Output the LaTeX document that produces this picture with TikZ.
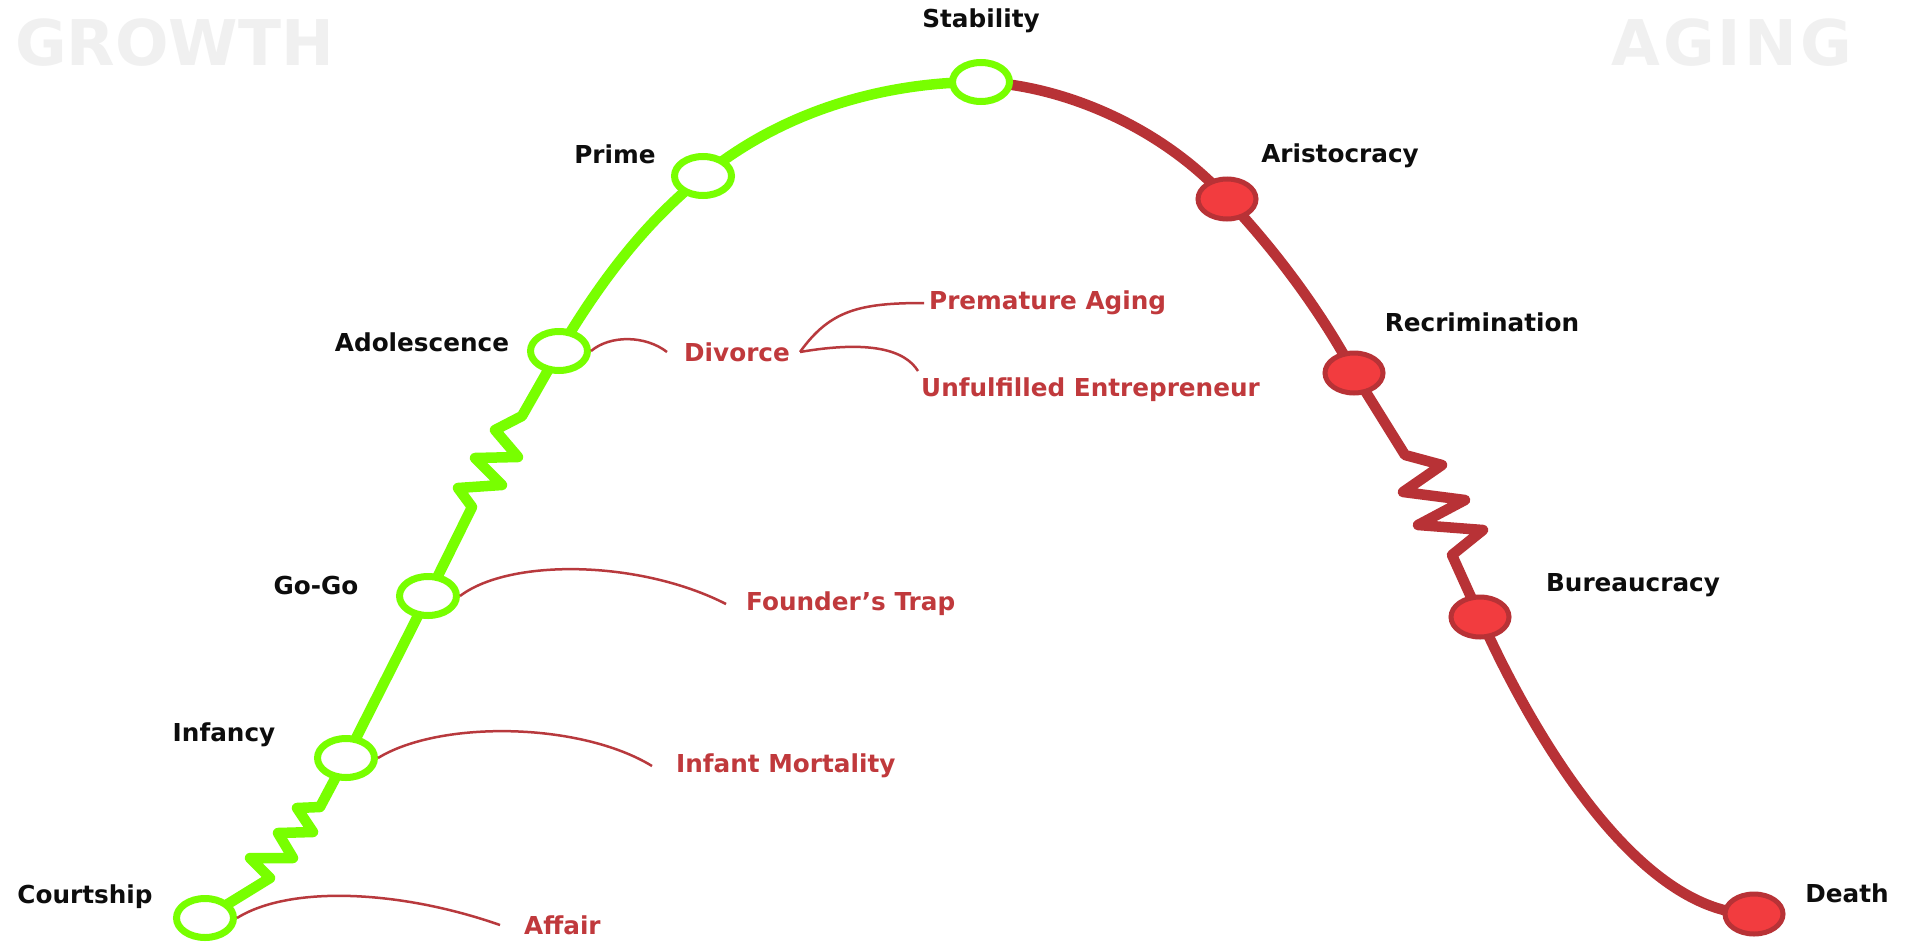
\documentclass[tikz,border=0pt]{standalone}
\usepackage{fontspec}
\newfontfamily\dvsans{DejaVu Sans}
\newfontfamily\dvwide{DejaVu Sans}[LetterSpace=5]
\usetikzlibrary{shapes.geometric,backgrounds}
\definecolor{stagegreen}{RGB}{120,255,0}
\definecolor{agered}{RGB}{184,50,54}
\definecolor{agefill}{RGB}{242,60,63}
\definecolor{traptext}{RGB}{192,57,60}
\definecolor{trapred}{RGB}{184,57,61}
\definecolor{bigword}{RGB}{240,240,240}
\begin{document}
\begin{tikzpicture}[x=1pt,y=-1pt,
  greenstage/.style={ellipse,draw=stagegreen,line width=7pt,fill=white,minimum width=57pt,minimum height=39pt,inner sep=0pt},
  redstage/.style={ellipse,draw=agered,line width=5pt,fill=agefill,minimum width=58pt,minimum height=40pt,inner sep=0pt},
  stagelabel/.style={font=\dvsans\bfseries\fontsize{24.7pt}{30pt}\selectfont,text=black!95,inner sep=0pt},
  traplabel/.style={font=\dvsans\bfseries\fontsize{24.7pt}{30pt}\selectfont,text=traptext,inner sep=0pt},
  bigtitle/.style={font=\dvsans\bfseries\fontsize{63pt}{70pt}\selectfont,text=bigword,inner sep=0pt},
  bigtitlewide/.style={font=\dvwide\bfseries\fontsize{63pt}{70pt}\selectfont,text=bigword,inner sep=0pt},
  growline/.style={draw=stagegreen,line width=10.5pt,line join=round,line cap=round},
  ageline/.style={draw=agered,line width=10.5pt,line join=round,line cap=round},
  trapline/.style={draw=trapred,line width=2.5pt}
]
\useasboundingbox (0,0) rectangle (1906,942);

% titles
\node[bigtitle,anchor=base west] (growth) at (15,66) {GROWTH};
\node[bigtitlewide,anchor=base west] (aging) at (1611,66) {AGING};

% stage circles
\node[greenstage] (courtship) at (205,918) {};
\node[greenstage] (infancy) at (346,758) {};
\node[greenstage] (gogo) at (428,596) {};
\node[greenstage] (adolescence) at (559,351) {};
\node[greenstage] (prime) at (703,176) {};
\node[greenstage] (stability) at (981,82) {};
\node[redstage] (aristocracy) at (1227,199) {};
\node[redstage] (recrimination) at (1354,373) {};
\node[redstage] (bureaucracy) at (1480,617) {};
\node[redstage] (death) at (1754,914) {};

% stage labels
\node[stagelabel] (lcourtship) at (85,897) {Courtship};
\node[stagelabel] (linfancy) at (224,735) {Infancy};
\node[stagelabel] (lgogo) at (316,586) {Go-Go};
\node[stagelabel] (ladolescence) at (422,342) {Adolescence};
\node[stagelabel] (lprime) at (615,154) {Prime};
\node[stagelabel] (lstability) at (981,21) {Stability};
\node[stagelabel] (laristocracy) at (1340,156) {Aristocracy};
\node[stagelabel] (lrecrimination) at (1482,322) {Recrimination};
\node[stagelabel] (lbureaucracy) at (1633,585) {Bureaucracy};
\node[stagelabel] (ldeath) at (1847,893) {Death};

% trap labels
\node[traplabel,anchor=west] (affair) at (524,925) {Affair};
\node[traplabel,anchor=west] (infantmortality) at (676,766) {Infant Mortality};
\node[traplabel,anchor=west] (founderstrap) at (746,604) {Founder’s Trap};
\node[traplabel,anchor=west] (divorce) at (684,352) {Divorce};
\node[traplabel,anchor=west] (prematureaging) at (929,303) {Premature Aging};
\node[traplabel,anchor=west] (unfulfilled) at (921,390) {Unfulfilled Entrepreneur};

\begin{pgfonlayer}{background}
\fill[white] (0,0) rectangle (1906,942);
% growth curve
\draw[growline] (courtship.center) -- (270,878) -- (250,858) -- (293,858) -- (278,833)
  -- (313,832) -- (297,808) -- (320,807) -- (infancy.center) -- (gogo.center)
  -- (472,507) -- (458,488) -- (502,485) -- (475,458) -- (518,457) -- (495,430)
  -- (522,416) -- (adolescence.center)
  .. controls (610,265) and (655,215) .. (prime.center)
  .. controls (780,113) and (880,82) .. (stability.center);
% aging curve
\draw[ageline] (stability.center) .. controls (1060,85) and (1160,125) .. (aristocracy.center)
  .. controls (1275,250) and (1320,310) .. (recrimination.center)
  -- (1405,455) -- (1442,465) -- (1403,492) -- (1465,500) -- (1418,525)
  -- (1483,530) -- (1452,555) -- (bureaucracy.center)
  .. controls (1535,740) and (1640,914) .. (death.center);
\end{pgfonlayer}

% trap connectors
\draw[trapline] (courtship.east) .. controls (290,885) and (400,890) .. ([xshift=-24pt]affair.west);
\draw[trapline] (infancy.east) .. controls (440,720) and (580,722) .. ([xshift=-24pt]infantmortality.west);
\draw[trapline] (gogo.east) .. controls (510,558) and (640,560) .. ([xshift=-20pt]founderstrap.west);
\draw[trapline] (adolescence.east) .. controls (610,335) and (645,335) .. ([xshift=-17pt]divorce.west);
\draw[trapline] ([xshift=10pt]divorce.east) .. controls (830,310) and (860,303) .. ([xshift=-5pt]prematureaging.west);
\draw[trapline] ([xshift=10pt]divorce.east) .. controls (870,340) and (905,350) .. ([xshift=-3pt,yshift=19pt]unfulfilled.west);
\end{tikzpicture}
\end{document}
